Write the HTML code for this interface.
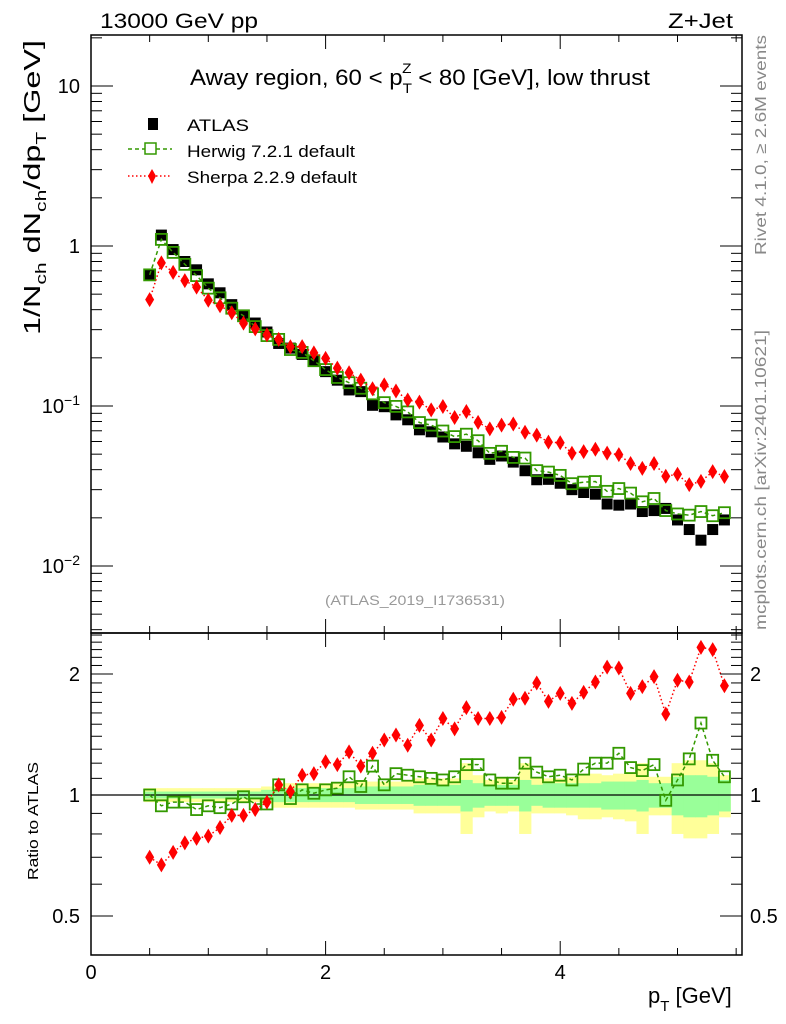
<!DOCTYPE html>
<html><head><meta charset="utf-8"><style>
body{margin:0;background:#fff;}
svg{display:block;font-family:"Liberation Sans",sans-serif;}
</style></head><body>
<svg id="chart" width="786" height="1024" viewBox="0 0 786 1024" xmlns="http://www.w3.org/2000/svg">
<g id="bands"></g>
<g id="main"></g>
<g id="ratio"></g>
<g id="axes"></g>
<text x="100" y="28" font-size="21" textLength="158" lengthAdjust="spacingAndGlyphs">13000 GeV pp</text>
<text x="668" y="28" font-size="21" textLength="65" lengthAdjust="spacingAndGlyphs">Z+Jet</text>
<text x="190" y="85" font-size="22" textLength="460" lengthAdjust="spacingAndGlyphs">Away region, 60 &lt; p<tspan dy="8" font-size="14">T</tspan><tspan dx="-9" dy="-20" font-size="14">Z</tspan><tspan dy="12"> &lt; 80 [GeV], low thrust</tspan></text>
<g>
<rect x="148" y="118" width="10" height="12" fill="#000"/>
<text x="187" y="131" font-size="17" textLength="62" lengthAdjust="spacingAndGlyphs">ATLAS</text>
<line x1="128" y1="149" x2="172" y2="149" stroke="#339900" stroke-width="1.5" stroke-dasharray="4,3"/>
<rect x="145" y="143" width="11" height="11" fill="#fff" stroke="#339900" stroke-width="1.5"/>
<text x="187" y="157" font-size="17" textLength="168" lengthAdjust="spacingAndGlyphs">Herwig 7.2.1 default</text>
<line x1="128" y1="176" x2="172" y2="176" stroke="#ff0000" stroke-width="1.5" stroke-dasharray="1.5,2.5"/>
<path d="M152,169 L156,176 L152,184 L148,176 Z" fill="#ff0000"/>
<text x="187" y="183" font-size="17" textLength="170" lengthAdjust="spacingAndGlyphs">Sherpa 2.2.9 default</text>
</g>
<text x="325" y="605" font-size="14" fill="#999" textLength="180" lengthAdjust="spacingAndGlyphs">(ATLAS_2019_I1736531)</text>
<text transform="translate(766,255) rotate(-90)" font-size="16" fill="#888" textLength="220" lengthAdjust="spacingAndGlyphs">Rivet 4.1.0, ≥ 2.6M events</text>
<text transform="translate(766,630) rotate(-90)" font-size="16" fill="#888" textLength="300" lengthAdjust="spacingAndGlyphs">mcplots.cern.ch [arXiv:2401.10621]</text>
<text transform="translate(40,335) rotate(-90)" font-size="23" textLength="295" lengthAdjust="spacingAndGlyphs">1/N<tspan dy="6" font-size="15">ch</tspan><tspan dy="-6"> dN</tspan><tspan dy="6" font-size="15">ch</tspan><tspan dy="-6">/dp</tspan><tspan dy="6" font-size="15">T</tspan><tspan dy="-6"> [GeV]</tspan></text>
<text transform="translate(38,880) rotate(-90)" font-size="15" textLength="118" lengthAdjust="spacingAndGlyphs">Ratio to ATLAS</text>
<text x="648" y="1003" font-size="22">p<tspan dy="8" font-size="15">T</tspan><tspan dy="-8"> [GeV]</tspan></text>
</svg>
<script>
const xs=[0.5,0.6,0.7,0.8,0.9,1.0,1.1,1.2,1.3,1.4,1.5,1.6,1.7,1.8,1.9,2.0,2.1,2.2,2.3,2.4,2.5,2.6,2.7,2.8,2.9,3.0,3.1,3.2,3.3,3.4,3.5,3.6,3.7,3.8,3.9,4.0,4.1,4.2,4.3,4.4,4.5,4.6,4.7,4.8,4.9,5.0,5.1,5.2,5.3,5.4];
const atlas=[0.66,1.17,0.95,0.80,0.71,0.58,0.51,0.43,0.37,0.33,0.29,0.246,0.23,0.21,0.19,0.164,0.145,0.126,0.123,0.101,0.099,0.088,0.082,0.071,0.069,0.064,0.058,0.056,0.051,0.0464,0.0487,0.0446,0.0394,0.0346,0.0348,0.0329,0.030,0.0288,0.0281,0.0244,0.024,0.0244,0.0219,0.0222,0.0229,0.0194,0.0169,0.0145,0.0169,0.0194];
const herwigRatio=[1.00,0.94,0.96,0.96,0.92,0.94,0.93,0.95,0.99,0.95,0.95,1.06,0.98,1.03,1.01,1.03,1.04,1.11,1.05,1.18,1.06,1.13,1.12,1.11,1.10,1.09,1.11,1.19,1.19,1.09,1.07,1.07,1.20,1.14,1.11,1.12,1.09,1.16,1.20,1.20,1.27,1.17,1.15,1.19,0.97,1.09,1.23,1.51,1.22,1.11];
const sherpaRatio=[0.70,0.67,0.72,0.76,0.78,0.79,0.83,0.89,0.89,0.92,0.96,1.06,1.02,1.12,1.13,1.21,1.19,1.28,1.18,1.27,1.37,1.41,1.33,1.49,1.37,1.55,1.46,1.65,1.55,1.55,1.56,1.73,1.74,1.90,1.71,1.79,1.69,1.80,1.91,2.08,2.07,1.79,1.86,1.97,1.59,1.93,1.91,2.33,2.30,1.87];
const greenErr=[0.02,0.02,0.02,0.02,0.02,0.02,0.02,0.02,0.02,0.02,0.03,0.04,0.04,0.04,0.04,0.04,0.04,0.04,0.05,0.05,0.05,0.05,0.05,0.06,0.06,0.06,0.06,0.09,0.07,0.06,0.06,0.06,0.09,0.06,0.07,0.07,0.07,0.07,0.07,0.08,0.08,0.08,0.09,0.07,0.07,0.11,0.12,0.12,0.11,0.09];
const yellowErr=[0.04,0.04,0.04,0.04,0.04,0.04,0.04,0.04,0.04,0.04,0.05,0.07,0.07,0.07,0.07,0.07,0.07,0.07,0.08,0.08,0.08,0.08,0.08,0.10,0.10,0.10,0.10,0.20,0.12,0.09,0.10,0.09,0.20,0.10,0.10,0.10,0.11,0.13,0.13,0.12,0.13,0.14,0.20,0.11,0.11,0.20,0.22,0.22,0.20,0.12];
const yTicksMain=[10,1,0.1,0.01];
const yTickLabelsMain=["10","1","10<tspan dy='-8' font-size='14'>−1</tspan>","10<tspan dy='-8' font-size='14'>−2</tspan>"];
const ratioTicks=[2,1,0.5];
const xTicks=[0,2,4];

const NS="http://www.w3.org/2000/svg";
const L=91,R=742,T=35,MB=633,RB=955;
const XMIN=0,XMAX=(R-L)/117.3;
const X=v=>L+(v-XMIN)*117.3;
const Ym=v=>246-160*Math.log10(v);
const Yr=v=>795-402*Math.log10(v);
function mk(tag,attrs,parent){const e=document.createElementNS(NS,tag);for(const k in attrs)e.setAttribute(k,attrs[k]);parent.appendChild(e);return e;}
const bands=document.getElementById('bands'),main=document.getElementById('main'),ratio=document.getElementById('ratio'),axes=document.getElementById('axes');
const hw=0.05;
xs.forEach((x,i)=>{
 let r=mk('rect',{x:X(x-hw),y:Yr(1+yellowErr[i]),width:X(x+hw)-X(x-hw)+0.5,height:Yr(1-yellowErr[i])-Yr(1+yellowErr[i]),fill:'#ffff99'},bands);
 
 
});
xs.forEach((x,i)=>{
 let r=mk('rect',{x:X(x-hw),y:Yr(1+greenErr[i]),width:X(x+hw)-X(x-hw)+0.5,height:Yr(1-greenErr[i])-Yr(1+greenErr[i]),fill:'#99ff99'},bands);
 
 
});
let l1=mk('line',{x1:L,x2:R,y1:Yr(1),y2:Yr(1),stroke:'#000','stroke-width':1.3},bands);


const herwig=xs.map((x,i)=>atlas[i]*herwigRatio[i]);
const sherpa=xs.map((x,i)=>atlas[i]*sherpaRatio[i]);
xs.forEach((x,i)=>{
 let r=mk('rect',{x:X(x)-5.5,y:Ym(atlas[i])-5.5,width:11,height:11,fill:'#000'},main);
 
 
});
function series(g,vals,Y,color,dash,kind,name){
 let p=mk('polyline',{points:xs.map((x,i)=>X(x)+','+Y(vals[i])).join(' '),fill:'none',stroke:color,'stroke-width':1.5,'stroke-dasharray':dash},g);
 
 
 xs.forEach((x,i)=>{
  const cx=X(x),cy=Y(vals[i]);let m;
  if(kind==='sq'){m=mk('rect',{x:cx-5.5,y:cy-5.5,width:11,height:11,fill:'none',stroke:color,'stroke-width':1.8},g);}
  else{m=mk('path',{d:`M${cx},${cy-7.5} L${cx+4.5},${cy} L${cx},${cy+7.5} L${cx-4.5},${cy} Z`,fill:color},g);}
  
  
 });
}
series(main,herwig,Ym,'#339900','4,3','sq','herwig');
series(main,sherpa,Ym,'#ff0000','1.5,2.5','dm','sherpa');
series(ratio,herwigRatio,Yr,'#339900','4,3','sq','herwig-ratio');
series(ratio,sherpaRatio,Yr,'#ff0000','1.5,2.5','dm','sherpa-ratio');
[[T,MB],[MB,RB]].forEach(([a,b],k)=>{
 let f=mk('rect',{x:L,y:a,width:R-L,height:b-a,fill:'none',stroke:'#000','stroke-width':1.5},axes);
 
 
});
for(let v=0;v<=XMAX+1e-6;v+=0.5){
 const major=Math.abs(v-Math.round(v/2)*2)<1e-6, len=major?14:7;
 [[T,1],[MB,-1],[MB,1],[RB,-1]].forEach(([y,d])=>{
  let t=mk('line',{x1:X(v),x2:X(v),y1:y,y2:y+d*len,stroke:'#000','stroke-width':1},axes);
  
  
 });
}
xTicks.forEach(v=>{
 let t=mk('text',{x:X(v),y:979,'font-size':20,'text-anchor':'middle'},axes);t.textContent=v;
 
 
});
for(let d=-3;d<=1;d++){for(let m=1;m<=9;m++){const v=m*Math.pow(10,d);const y=Ym(v);if(y<T||y>MB)continue;const len=m===1?22:11;
 [[L,1],[R,-1]].forEach(([x,s])=>{let t=mk('line',{x1:x,x2:x+s*len,y1:y,y2:y,stroke:'#000','stroke-width':1},axes);
 
 });}}
yTicksMain.forEach((v,i)=>{
 let t=mk('text',{x:80,y:Ym(v)+7,'font-size':20,'text-anchor':'end'},axes);t.innerHTML=yTickLabelsMain[i];
 
 
});
for(let v=0.4;v<=2.55;v+=0.1){const y=Yr(v);if(y<MB||y>RB)continue;const major=ratioTicks.some(r=>Math.abs(r-v)<1e-6);const len=major?22:11;
 [[L,1],[R,-1]].forEach(([x,s])=>{let t=mk('line',{x1:x,x2:x+s*len,y1:y,y2:y,stroke:'#000','stroke-width':1},axes);
 
 });}
ratioTicks.forEach(v=>{
 let t=mk('text',{x:80,y:Yr(v)+7,'font-size':20,'text-anchor':'end'},axes);t.textContent=v;
 
 
 let t2=mk('text',{x:750,y:Yr(v)+7,'font-size':20},axes);t2.textContent=v;
 
 
});
</script>
</body></html>
